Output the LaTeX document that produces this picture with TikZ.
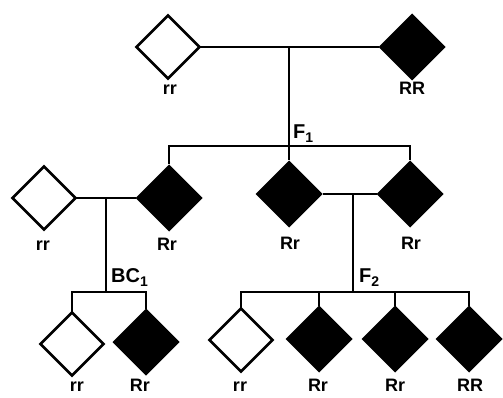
\documentclass[tikz,border=0pt]{standalone}
\usepackage{fontspec}
\setmainfont{Liberation Sans}
\usetikzlibrary{shapes.geometric}
\tikzset{
  base/.style={shape=diamond, shape aspect=1, inner sep=0pt, outer sep=0pt},
  opendia/.style={base, draw=black, line width=2.8pt, minimum size=63pt, fill=white},
  filldia/.style={base, fill=black, minimum size=67pt},
  geno/.style={font=\fontsize{18}{18}\selectfont\bfseries, anchor=base, inner sep=0pt},
  gen/.style={font=\fontsize{20}{20}\selectfont\bfseries, anchor=base west, inner sep=0pt},
  conn/.style={line width=2.2pt}
}
\newcommand{\gsub}[1]{\raisebox{-4pt}{\fontsize{14}{14}\selectfont #1}}
\begin{document}
\begin{tikzpicture}[x=1pt,y=-1pt]
\useasboundingbox (0,0) rectangle (503,398);
% generation P
\node[opendia] (P1) at (168,47) {};
\node[filldia] (P2) at (412,47) {};
\node[geno] (lP1) at (170,95) {rr};
\node[geno] (lP2) at (412,95) {RR};
% generation F1
\node[opendia] (A) at (44,198) {};
\node[filldia] (B) at (169,198) {};
\node[filldia] (C) at (289,194) {};
\node[filldia] (D) at (410,194) {};
\node[geno] (lA) at (43,250) {rr};
\node[geno] (lB) at (167,250) {Rr};
\node[geno] (lC) at (290,249) {Rr};
\node[geno] (lD) at (411,249) {Rr};
% BC1
\node[opendia] (E) at (72,344) {};
\node[filldia] (F) at (146,342) {};
\node[geno] (lE) at (77,391) {rr};
\node[geno] (lF) at (140,391) {Rr};
% F2
\node[opendia] (G) at (241,340) {};
\node[filldia] (H) at (319,339) {};
\node[filldia] (I) at (395,339) {};
\node[filldia] (J) at (469,339) {};
\node[geno] (lG) at (240,391) {rr};
\node[geno] (lH) at (318,391) {Rr};
\node[geno] (lI) at (395,391) {Rr};
\node[geno] (lJ) at (470,391) {RR};
% generation labels
\node[gen] (gF1) at (293,139) {F\gsub{1}};
\node[gen] (gBC) at (111,282) {BC\gsub{1}};
\node[gen] (gF2) at (359,282) {F\gsub{2}};
% junction coordinates
\coordinate (m1) at (289,47);
\coordinate (f1) at (289,146);
\coordinate (m2) at (106,198);
\coordinate (b1) at (106,292);
\coordinate (m3) at (353,194);
\coordinate (f2) at (353,292);
% connectors
\begin{scope}[conn]
\draw (P1.east) -- (P2.west);
\draw (m1) -- (C.north);
\draw (B.north) |- (f1) -| (D.north);
\draw (A.east) -- (B.west);
\draw (m2) -- (b1);
\draw (E.north) |- (b1) -| (F.north);
\draw (C.east) -- (D.west);
\draw (m3) -- (f2);
\draw (G.north) |- (f2) -| (J.north);
\draw (H.north) -- (H.north |- f2);
\draw (I.north) -- (I.north |- f2);
\end{scope}
\end{tikzpicture}
\end{document}
